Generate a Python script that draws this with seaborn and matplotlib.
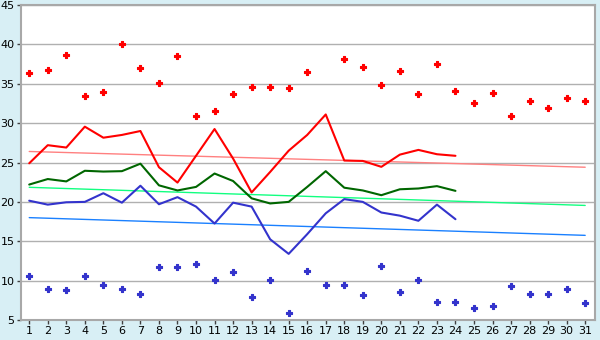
import numpy as np
import pandas as pd
import matplotlib
matplotlib.use("Agg")
import matplotlib.pyplot as plt
import seaborn as sns

days = list(range(1, 32))
max_points = [36.4, 36.7, 38.6, 33.4, 33.9, 40.1, 37.0, 35.05, 38.5, 30.9,
              31.6, 33.65, 34.55, 34.55, 34.4, 36.45, np.nan, 38.2, 37.1, 34.8,
              36.6, 33.65, 37.45, 34.05, 32.5, 33.8, 30.9, 32.75, 31.9, 33.25, 32.75]
min_points = [10.65, 8.9, 8.75, 10.55, 9.4, 9.0, 8.25, 11.7, 11.7, 12.05,
              10.05, 11.05, 7.9, 10.05, 5.85, 11.2, 9.4, 9.4, 8.15, 11.8,
              8.5, 10.05, 7.25, 7.25, 6.5, 6.75, 9.3, 8.25, 8.25, 8.9, 7.1]
line_days = list(range(1, 25))
max_line = [24.9, 27.2, 26.9, 29.55, 28.15, 28.5, 29.0, 24.4, 22.45, 25.85,
            29.25, 25.5, 21.2, 23.8, 26.5, 28.5, 31.1, 25.25, 25.2, 24.45,
            26.0, 26.6, 26.05, 25.85]
mean_line = [22.2, 22.9, 22.6, 23.95, 23.85, 23.9, 24.85, 22.1, 21.45, 21.9,
             23.6, 22.65, 20.45, 19.8, 20.0, 21.9, 23.9, 21.8, 21.45, 20.85,
             21.6, 21.7, 22.0, 21.4]
min_line = [20.15, 19.65, 19.95, 20.0, 21.1, 19.9, 22.05, 19.7, 20.6, 19.4,
            17.25, 19.9, 19.4, 15.25, 13.4, 15.9, 18.55, 20.35, 20.0, 18.65,
            18.25, 17.6, 19.65, 17.8]
trend_days = [1, 31]
trend_max = [26.4, 24.4]
trend_mean = [21.85, 19.55]
trend_min = [18.0, 15.75]
y_ticks = [5, 10, 15, 20, 25, 30, 35, 40, 45]

sns.set_theme(style="white")
plt.rcParams['font.family'] = ['DejaVu Sans']

bg = '#d8eff5'
fig = plt.figure(figsize=(6, 3.4), dpi=100, facecolor=bg)
ax = fig.add_axes([0.0345, 0.0588, 0.9575, 0.9265])
ax.set_facecolor('white')

pts = pd.DataFrame({'day': days, 'max': max_points, 'min': min_points})
lines = pd.DataFrame({'day': line_days, 'max': max_line, 'mean': mean_line, 'min': min_line})
trend = pd.DataFrame({'day': trend_days, 'max': trend_max, 'mean': trend_mean, 'min': trend_min})

for col, c in [('max', '#ff8080'), ('mean', '#11ff80'), ('min', '#1a80ff')]:
    sns.lineplot(data=trend, x='day', y=col, ax=ax, color=c, linewidth=1.0, zorder=2)

sns.lineplot(data=lines, x='day', y='max', ax=ax, color='#ff0000', linewidth=1.5, zorder=3)
sns.lineplot(data=lines, x='day', y='mean', ax=ax, color='#006600', linewidth=1.5, zorder=3)
sns.lineplot(data=lines, x='day', y='min', ax=ax, color='#3333cc', linewidth=1.5, zorder=3)

sns.scatterplot(data=pts, x='day', y='max', ax=ax, color='#ff0000', marker='P', s=16,
                linewidth=0.8, edgecolor='#ff0000', zorder=4)
sns.scatterplot(data=pts, x='day', y='min', ax=ax, color='#3333cc', marker='P', s=16,
                linewidth=0.8, edgecolor='#3333cc', zorder=4)

ax.set_xlim(0.54, 31.54)
ax.set_ylim(5, 45)
ax.set_xticks(days)
ax.set_xticklabels([str(d) for d in days])
ax.set_yticks(y_ticks)
ax.set_yticklabels([str(v) for v in y_ticks])
ax.set_xlabel('')
ax.set_ylabel('')
ax.grid(axis='y', color='#b0b0b0', linewidth=1.0)
ax.set_axisbelow(True)
for s in ax.spines.values():
    s.set_color('#a8a8a8')
    s.set_linewidth(1.5)
ax.tick_params(axis='both', which='major', length=3, width=1, color='#404040',
               labelsize=8, labelcolor='#000000', pad=1.5, direction='out')
ax.tick_params(axis='x', bottom=True)
ax.tick_params(axis='y', left=True)

fig.savefig('out.png', dpi=100, facecolor=bg)
